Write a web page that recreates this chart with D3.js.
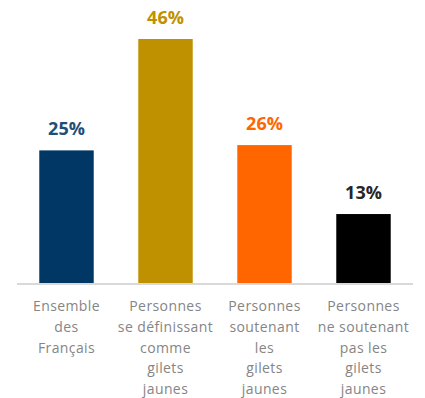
<!DOCTYPE html>
<html>
<head>
<meta charset="utf-8">
<script src="https://cdn.jsdelivr.net/npm/d3@7"></script>
<style>
  html, body { margin: 0; padding: 0; background: #fff; }
  svg { display: block; }
</style>
</head>
<body>
<svg id="chart" width="425" height="398"></svg>
<script>
// Share of each group (percent)
const categories = [
  ["Ensemble", "des", "Français"],
  ["Personnes", "se définissant", "comme", "gilets", "jaunes"],
  ["Personnes", "soutenant", "les", "gilets", "jaunes"],
  ["Personnes", "ne soutenant", "pas les", "gilets", "jaunes"]
];
const values = [25, 46, 26, 13];
const barColors = ["#003764", "#BF9000", "#FF6600", "#000000"];
const labelColors = ["#1F4E79", "#BF9000", "#FF6600", "#262626"];

const svg = d3.select("#chart");
const left = 17, right = 413, baseline = 283;

const x = d3.scaleBand()
  .domain(d3.range(values.length))
  .range([left, right])
  .paddingInner(0.45)
  .paddingOuter(0.225);

const y = d3.scaleLinear()
  .domain([0, 46])
  .range([baseline, 39]);

// Bars
svg.selectAll("rect.bar")
  .data(values)
  .join("rect")
  .attr("class", "bar")
  .attr("x", (d, i) => x(i))
  .attr("width", x.bandwidth())
  .attr("y", d => y(d))
  .attr("height", d => y(0) - y(d))
  .attr("fill", (d, i) => barColors[i]);

// Baseline
svg.append("line")
  .attr("x1", left).attr("x2", right)
  .attr("y1", baseline + 1).attr("y2", baseline + 1)
  .attr("stroke", "#D9D9D9")
  .attr("stroke-width", 2);

// Value labels
svg.selectAll("text.value")
  .data(values)
  .join("text")
  .attr("class", "value")
  .attr("x", (d, i) => x(i) + x.bandwidth() / 2)
  .attr("y", d => y(d) - 15)
  .attr("text-anchor", "middle")
  .attr("font-family", "'Open Sans', sans-serif")
  .attr("font-weight", "bold")
  .attr("font-size", 18)
  .attr("fill", (d, i) => labelColors[i])
  .text(d => d + "%");

// Category labels
const catG = svg.selectAll("text.cat")
  .data(categories)
  .join("text")
  .attr("class", "cat")
  .attr("text-anchor", "middle")
  .attr("font-family", "'Open Sans', sans-serif")
  .attr("font-size", 14)
  .attr("letter-spacing", 0.4)
  .attr("fill", "#858585");

catG.selectAll("tspan")
  .data((d, i) => d.map(line => ({ line, i })))
  .join("tspan")
  .attr("x", d => x(d.i) + x.bandwidth() / 2)
  .attr("y", (d, j) => 311 + j * 20.8)
  .text(d => d.line);
</script>
</body>
</html>
